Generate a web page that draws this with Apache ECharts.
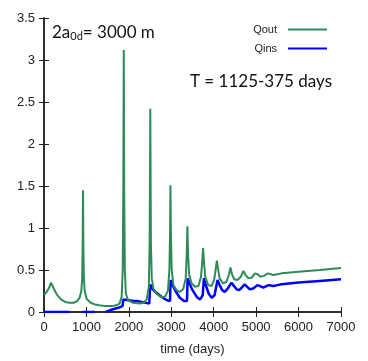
<!DOCTYPE html>
<html><head><meta charset="utf-8">
<script src="https://cdn.jsdelivr.net/npm/echarts@6/dist/echarts.min.js"></script>
<style>html,body{margin:0;padding:0;background:#fff}#c{width:368px;height:361px}</style>
</head><body><div id="c"></div>
<script>
var qoutDays = [0,50,100,140,165,180,195,230,300,400,500,600,700,780,840,880,900,912,920,928,940,960,1000,1100,1200,1300,1450,1600,1700,1780,1830,1855,1870,1880,1890,1905,1930,1980,2100,2250,2350,2420,2470,2490,2505,2520,2540,2580,2650,2750,2850,2920,2955,2970,2980,2992,3010,3050,3120,3200,3280,3340,3365,3380,3395,3420,3480,3560,3640,3700,3730,3750,3770,3800,3870,3950,4010,4050,4075,4100,4140,4220,4300,4360,4395,4430,4480,4560,4640,4700,4750,4820,4900,4970,5000,5040,5100,5180,5280,5320,5400,5500,5600,6000,6500,7000];
var qoutVals = [0.20,0.23,0.27,0.31,0.35,0.37,0.35,0.28,0.21,0.15,0.12,0.11,0.11,0.13,0.17,0.25,0.40,0.8,1.45,0.8,0.4,0.25,0.16,0.11,0.09,0.08,0.07,0.07,0.08,0.10,0.18,0.5,1.5,3.12,1.5,0.5,0.22,0.14,0.11,0.10,0.11,0.15,0.3,0.8,2.42,0.8,0.4,0.28,0.22,0.18,0.18,0.25,0.5,0.9,1.51,0.9,0.5,0.32,0.26,0.24,0.27,0.4,0.7,1.02,0.7,0.45,0.34,0.30,0.31,0.42,0.6,0.76,0.6,0.42,0.32,0.31,0.38,0.52,0.61,0.52,0.40,0.34,0.36,0.45,0.53,0.45,0.39,0.38,0.42,0.49,0.44,0.40,0.41,0.46,0.47,0.45,0.42,0.43,0.46,0.45,0.44,0.45,0.46,0.48,0.50,0.525];
var qinsDays = [0,300,600,620,880,900,1200,1220,1430,1450,1550,1650,1750,1850,1870,1900,2000,2100,2200,2300,2400,2480,2505,2530,2600,2700,2800,2900,2970,2985,3010,3100,3200,3300,3370,3385,3420,3500,3600,3680,3740,3770,3800,3880,3950,4020,4090,4130,4200,4260,4330,4420,4460,4540,4600,4660,4730,4770,4850,4930,5030,5080,5170,5250,5300,5400,5500,5600,6000,6500,7000];
var qinsVals = [0,0,0,null,null,0,0,null,null,0,0.02,0.035,0.05,0.07,0.15,0.16,0.14,0.13,0.13,0.12,0.11,0.10,0.33,0.29,0.25,0.21,0.17,0.14,0.13,0.38,0.34,0.25,0.17,0.13,0.13,0.40,0.35,0.26,0.18,0.15,0.20,0.40,0.34,0.22,0.17,0.20,0.38,0.33,0.26,0.24,0.28,0.35,0.32,0.27,0.26,0.29,0.33,0.31,0.27,0.28,0.32,0.31,0.29,0.31,0.32,0.31,0.32,0.33,0.35,0.37,0.39];
var xTicks = [0,1000,2000,3000,4000,5000,6000,7000];
var yTicks = [0,0.5,1,1.5,2,2.5,3,3.5];

function pairs(xs, ys){ return xs.map(function(x,i){ return [x, ys[i]]; }); }
var chart = echarts.init(document.getElementById('c'), null, {renderer:'canvas'});
var axisLine = {show:true, lineStyle:{color:'#222', width:1.5}};
var fnt = 'Liberation Sans, Arial, sans-serif';
var plain = function(v){ return String(v); };
chart.setOption({
  animation:false,
  grid:{left:44, right:27, top:18, bottom:45},
  xAxis:[
    {type:'value', min:xTicks[0], max:xTicks[xTicks.length-1], interval:1000, position:'bottom',
     axisLine:axisLine, axisTick:{inside:true, length:5, lineStyle:{color:'#222'}},
     splitLine:{show:false},
     axisLabel:{color:'#222', fontSize:13, fontFamily:fnt, margin:9, formatter:plain},
     name:'time (days)', nameLocation:'middle', nameGap:31,
     nameTextStyle:{color:'#222', fontSize:13, fontFamily:fnt}},
    {type:'value', min:xTicks[0], max:xTicks[xTicks.length-1], interval:1000, position:'top',
     axisLine:axisLine, axisTick:{inside:true, length:5, lineStyle:{color:'#222'}},
     splitLine:{show:false}, axisLabel:{show:false}}
  ],
  yAxis:[
    {type:'value', min:yTicks[0], max:yTicks[yTicks.length-1], interval:0.5, position:'left',
     axisLine:axisLine, axisTick:{show:true, inside:true, length:5, lineStyle:{color:'#222'}},
     splitLine:{show:false},
     axisLabel:{color:'#222', fontSize:13, fontFamily:fnt, margin:9, formatter:plain}},
    {type:'value', min:yTicks[0], max:yTicks[yTicks.length-1], interval:0.5, position:'right',
     axisLine:axisLine, axisTick:{show:true, inside:true, length:5, lineStyle:{color:'#222'}},
     splitLine:{show:false}, axisLabel:{show:false}}
  ],
  legend:{
    orient:'vertical', right:41, top:24, align:'right', padding:0,
    itemWidth:39, itemHeight:2, itemGap:8, icon:'rect',
    textStyle:{color:'#222', fontSize:11, fontFamily:fnt, padding:[0,6,0,0]},
    data:['Qout','Qins']
  },
  series:[
    {name:'Qout', type:'line', data:pairs(qoutDays,qoutVals), showSymbol:false, symbol:'none',
     lineStyle:{color:'#2e8b57', width:2}, itemStyle:{color:'#2e8b57'}, z:3},
    {name:'Qins', type:'line', data:pairs(qinsDays,qinsVals), showSymbol:false, symbol:'none',
     connectNulls:false, lineStyle:{color:'#0000ff', width:2.5}, itemStyle:{color:'#0000ff'}, z:2}
  ],
  graphic:[
    {type:'text', left:52, top:24, style:{
      text:'{a|2a}{s|0d}{a|= 3000 m}',
      rich:{a:{fontSize:17, fontFamily:'Lato, Open Sans, sans-serif', fill:'#111'},
            s:{fontSize:11, fontFamily:'Lato, Open Sans, sans-serif', fill:'#111', padding:[8,0,0,0]}}}},
    {type:'text', right:36, top:73, style:{
      text:'T = 1125-375 days', fontSize:17, fontFamily:'Lato, Open Sans, sans-serif', fill:'#111'}}
  ]
});
</script></body></html>
